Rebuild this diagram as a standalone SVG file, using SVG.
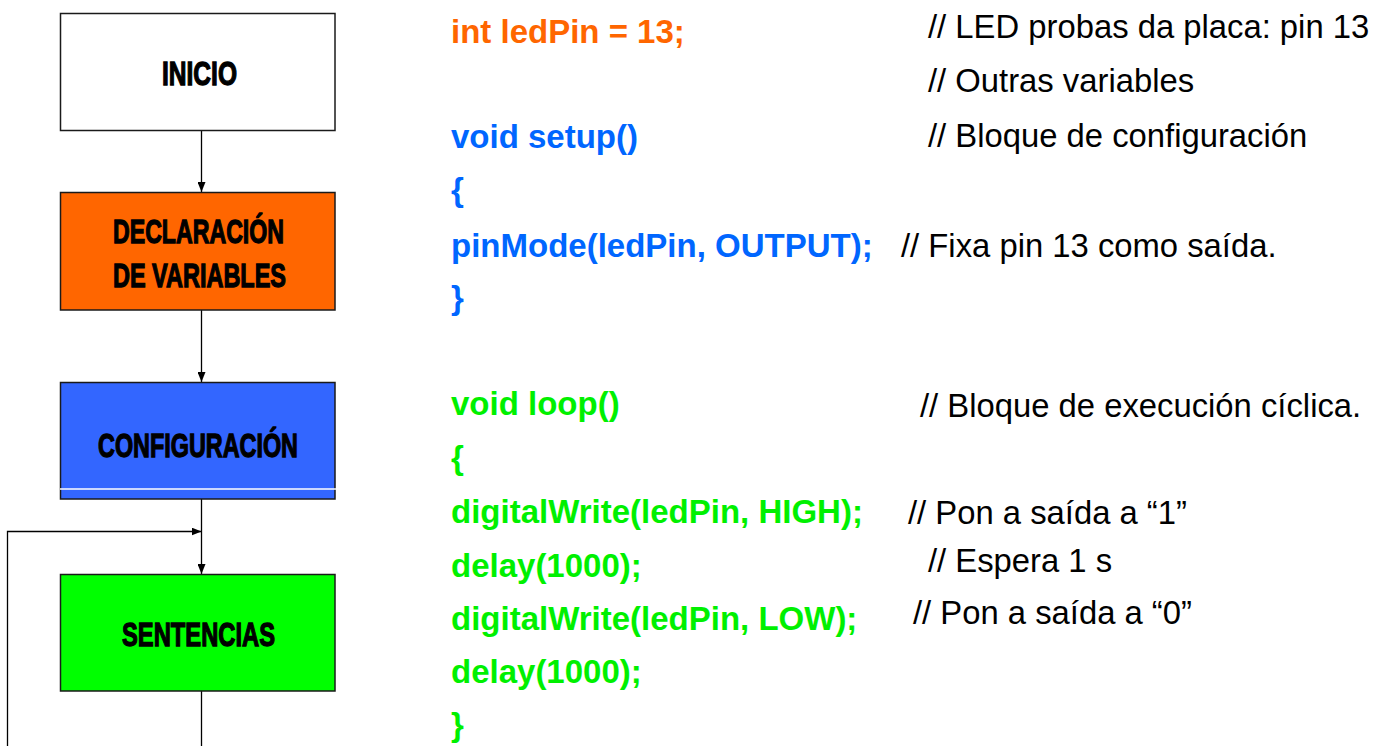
<svg xmlns="http://www.w3.org/2000/svg" width="1389" height="746" viewBox="0 0 1389 746">
<style>
.box{stroke:#1a1a1a;stroke-width:1.5}
.lbl{font-family:"Liberation Sans",Arial,sans-serif;font-weight:bold;font-size:34px;fill:#000;stroke:#000;stroke-width:1.3;text-anchor:middle}
.conn{stroke:#000;stroke-width:1.3;fill:none}
.code{font-family:"Liberation Sans",Arial,sans-serif;font-weight:bold;font-size:33px}
.cmt{font-family:"Liberation Sans",Arial,sans-serif;font-size:32.8px;fill:#000}
.or{fill:#FF6600}.bl{fill:#0066FF}.gr{fill:#00F000}
</style>
<defs>
<marker id="ah" viewBox="0 0 10 8" refX="10" refY="4" markerWidth="10" markerHeight="8" markerUnits="userSpaceOnUse" orient="auto">
<path d="M0,0 L10,4 L0,8 Z" fill="#000"/>
</marker>
</defs>
<rect width="1389" height="746" fill="#fff"/>
<g id="connectors">
<line class="conn" x1="201.5" y1="131" x2="201.5" y2="192" marker-end="url(#ah)"/>
<line class="conn" x1="201.5" y1="310" x2="201.5" y2="382" marker-end="url(#ah)"/>
<line class="conn" x1="201.5" y1="499" x2="201.5" y2="574" marker-end="url(#ah)"/>
<polyline class="conn" points="7.5,746 7.5,531.5 201.5,531.5" marker-end="url(#ah)"/>
<line class="conn" x1="201.5" y1="691" x2="201.5" y2="746"/>
</g>
<g id="inicio">
<rect class="box" x="60.5" y="13.5" width="274.5" height="117" fill="#fff"/>
<text class="lbl" x="199.5" y="85" textLength="75" lengthAdjust="spacingAndGlyphs">INICIO</text>
</g>
<g id="declaracion">
<rect class="box" x="60.5" y="192.5" width="274.5" height="117.5" fill="#FF6600"/>
<text class="lbl" x="198.5" y="242.5" textLength="171" lengthAdjust="spacingAndGlyphs">DECLARACIÓN</text>
<text class="lbl" x="199.5" y="286.5" textLength="173" lengthAdjust="spacingAndGlyphs">DE VARIABLES</text>
</g>
<g id="configuracion">
<rect class="box" x="60.5" y="382.5" width="274.5" height="116.5" fill="#3366FF"/>
<text class="lbl" x="198" y="456.5" textLength="200" lengthAdjust="spacingAndGlyphs">CONFIGURACIÓN</text>
<line x1="60" y1="489" x2="336" y2="489" stroke="#fff" stroke-width="1.3"/>
</g>
<g id="sentencias">
<rect class="box" x="60.5" y="574.5" width="274.5" height="116.5" fill="#00FF00"/>
<text class="lbl" x="198.5" y="646" textLength="153" lengthAdjust="spacingAndGlyphs">SENTENCIAS</text>
</g>
<g id="code">
<text class="code or" x="451" y="42.5">int ledPin = 13;</text>
<text class="code bl" x="451" y="148">void setup()</text>
<text class="code bl" x="451" y="201">{</text>
<text class="code bl" x="451" y="257">pinMode(ledPin, OUTPUT);</text>
<text class="code bl" x="451" y="309">}</text>
<text class="code gr" x="451" y="415">void loop()</text>
<text class="code gr" x="451" y="469">{</text>
<text class="code gr" x="451" y="523">digitalWrite(ledPin, HIGH);</text>
<text class="code gr" x="451" y="577">delay(1000);</text>
<text class="code gr" x="451" y="630">digitalWrite(ledPin, LOW);</text>
<text class="code gr" x="451" y="683">delay(1000);</text>
<text class="code gr" x="451" y="736">}</text>
</g>
<g id="comments">
<text class="cmt" x="928" y="37.5">// LED probas da placa: pin 13</text>
<text class="cmt" x="928" y="92">// Outras variables</text>
<text class="cmt" x="928" y="147">// Bloque de configuración</text>
<text class="cmt" x="901" y="257">// Fixa pin 13 como saída.</text>
<text class="cmt" x="920" y="416.5">// Bloque de execución cíclica.</text>
<text class="cmt" x="908" y="524">// Pon a saída a “1”</text>
<text class="cmt" x="928" y="572">// Espera 1 s</text>
<text class="cmt" x="913" y="624">// Pon a saída a “0”</text>
</g>
</svg>
